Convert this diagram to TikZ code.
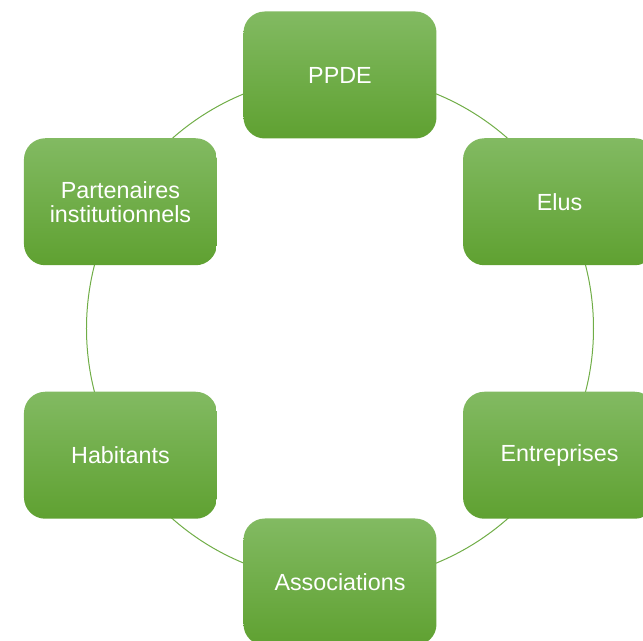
\documentclass[tikz,border=0pt]{standalone}
\usepackage{fontspec}
\setmainfont{Liberation Sans}
\usetikzlibrary{positioning}

\definecolor{ringgreen}{HTML}{70AD47}
\definecolor{boxtop}{HTML}{82BA62}
\definecolor{boxmid}{HTML}{6DAF40}
\definecolor{boxbottom}{HTML}{5FA131}

\begin{document}
\begin{tikzpicture}[
    x=0.75pt, y=0.75pt,
    ring/.style={
        draw=ringgreen,
        line width=0.75pt,
    },
    actor/.style={
        rectangle,
        rounded corners=16pt,
        minimum width=144.75pt,
        minimum height=95.25pt,
        inner sep=0pt,
        top color=boxtop,
        middle color=boxmid,
        bottom color=boxbottom,
        text=white,
        align=center,
        font=\fontsize{17.5pt}{18pt}\selectfont,
    }
]
    \useasboundingbox (-340,-312.5) rectangle (303,328.5);

    % Ring
    \coordinate (centre) at (0,0);
    \draw[ring] (centre) circle (253.5);

    % Actors
    \node[actor] (ppde) at (90:253.5) {PPDE};
    \node[actor] (elus) at (30:253.5) {Elus};
    \node[actor] (entreprises) at (-30:253.5) {Entreprises};
    \node[actor] (associations) at (-90:253.5) {Associations};
    \node[actor] (habitants) at (-150:253.5) {Habitants};
    \node[actor] (partenaires) at (150:253.5) {Partenaires\\institutionnels};
\end{tikzpicture}
\end{document}
